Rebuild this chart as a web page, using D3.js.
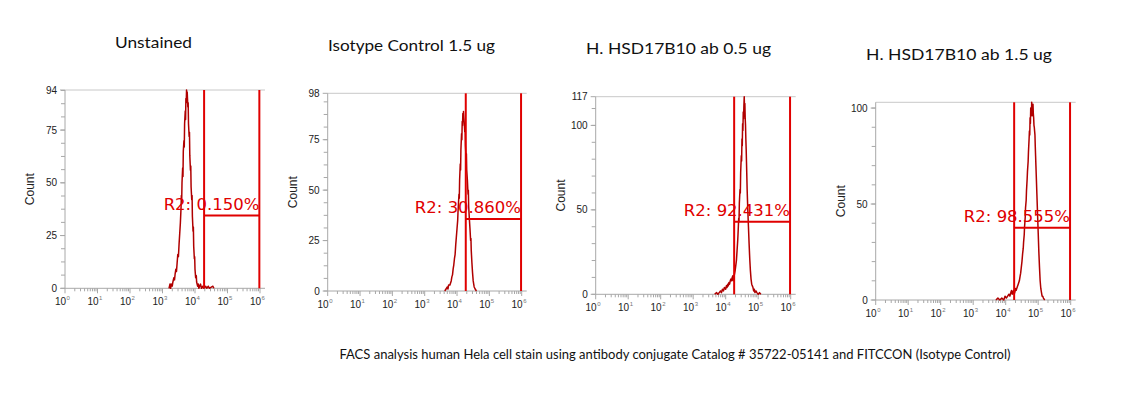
<!DOCTYPE html>
<html>
<head>
<meta charset="utf-8">
<script src="https://cdn.jsdelivr.net/npm/d3@7"></script>
<style>
  body { margin: 0; background: #fff; }
  svg { display: block; }
</style>
</head>
<body>
<div id="chart"></div>
<script>
// panel titles
const titles = ["Unstained", "Isotype Control 1.5 ug", "H. HSD17B10 ab 0.5 ug", "H. HSD17B10 ab 1.5 ug"];
const caption = "FACS analysis human Hela cell stain using antibody conjugate Catalog # 35722-05141 and FITCCON (Isotype Control)";

// y axis maximum and labelled ticks per panel
const yMax = [94, 98, 117, 103];
const yTicks = [[0, 25, 50, 75, 94], [0, 25, 50, 75, 98], [0, 50, 100, 117], [0, 50, 100]];

// gate R2 (log10 of intensity) and its marker level (count)
const gateLo = [4.28, 4.27, 4.26, 4.26];
const gateHi = [5.98, 5.98, 5.98, 5.98];
const gateLevel = [34.5, 35.7, 43, 37.7];
const gateText = ["R2: 0.150%", "R2: 30.860%", "R2: 92.431%", "R2: 98.555%"];

// histograms: [log10 intensity, count]
const unstainedHist = [
  [3.20, 0], [3.23, 2], [3.25, 0], [3.27, 2], [3.30, 1], [3.32, 3], [3.35, 5], [3.37, 4], [3.39, 7],
  [3.41, 9], [3.43, 8], [3.45, 12], [3.47, 16], [3.49, 15], [3.51, 21], [3.53, 26], [3.55, 31],
  [3.57, 38], [3.58, 44], [3.59, 41], [3.60, 50], [3.62, 57], [3.63, 53], [3.64, 65], [3.66, 70],
  [3.67, 67], [3.68, 78], [3.70, 84], [3.71, 80], [3.72, 90], [3.73, 88], [3.74, 94], [3.75, 91],
  [3.76, 93], [3.78, 86], [3.79, 88], [3.80, 78], [3.82, 72], [3.83, 74], [3.84, 63], [3.86, 56],
  [3.87, 58], [3.88, 48], [3.90, 42], [3.91, 44], [3.92, 34], [3.94, 27], [3.95, 29], [3.96, 20],
  [3.98, 14], [3.99, 15], [4.00, 9], [4.02, 5], [4.04, 6], [4.05, 3], [4.08, 1], [4.10, 2],
  [4.12, 0], [4.14, 1], [4.17, 2], [4.20, 0], [4.24, 1], [4.27, 0], [4.33, 1], [4.36, 0],
  [4.41, 1], [4.44, 0], [4.55, 1], [4.58, 0]
];
const isotypeHist = [
  [3.62, 0], [3.66, 1], [3.70, 2], [3.72, 1], [3.74, 3], [3.78, 3], [3.80, 4], [3.82, 5], [3.84, 7],
  [3.86, 8], [3.88, 11], [3.90, 13], [3.92, 16], [3.94, 18], [3.96, 23], [3.97, 25], [3.99, 29],
  [4.00, 31], [4.02, 35], [4.03, 39], [4.04, 42], [4.06, 48], [4.07, 46], [4.08, 55], [4.10, 63],
  [4.11, 60], [4.12, 70], [4.14, 78], [4.15, 75], [4.16, 84], [4.17, 82], [4.18, 88], [4.19, 85],
  [4.20, 89], [4.21, 86], [4.22, 84], [4.24, 79], [4.25, 81], [4.26, 72], [4.28, 66], [4.29, 68],
  [4.30, 60], [4.32, 55], [4.34, 48], [4.35, 50], [4.36, 42], [4.38, 36], [4.40, 31], [4.42, 25],
  [4.43, 26], [4.44, 20], [4.46, 14], [4.48, 9], [4.50, 5], [4.52, 3], [4.53, 2], [4.56, 1], [4.60, 0]
];
const hsd05Hist = [
  [3.66, 0], [3.72, 1], [3.76, 0], [3.80, 1], [3.84, 2], [3.87, 1], [3.90, 3], [3.93, 2], [3.96, 4],
  [4.00, 3], [4.02, 5], [4.04, 4], [4.06, 6], [4.08, 5], [4.10, 7], [4.12, 6], [4.14, 8], [4.16, 9],
  [4.18, 8], [4.20, 10], [4.22, 11], [4.23, 8], [4.25, 10], [4.27, 12], [4.29, 14], [4.31, 17],
  [4.33, 20], [4.35, 26], [4.37, 32], [4.38, 36], [4.40, 45], [4.41, 43], [4.42, 54], [4.44, 62],
  [4.45, 60], [4.46, 72], [4.48, 82], [4.49, 79], [4.50, 92], [4.51, 88], [4.52, 101], [4.53, 97],
  [4.54, 108], [4.55, 104], [4.56, 112], [4.57, 117], [4.58, 110], [4.59, 113], [4.60, 104],
  [4.61, 100], [4.62, 92], [4.63, 86], [4.64, 78], [4.65, 70], [4.66, 62], [4.67, 56], [4.68, 50],
  [4.70, 40], [4.72, 30], [4.74, 21], [4.76, 14], [4.78, 9], [4.80, 6], [4.82, 5], [4.84, 4],
  [4.86, 2], [4.88, 3], [4.90, 1], [4.93, 2], [4.96, 1], [5.00, 0], [5.04, 1], [5.08, 0]
];
const hsd15Hist = [
  [3.70, 0], [3.76, 1], [3.82, 0], [3.88, 1], [3.94, 0], [3.98, 2], [4.02, 1], [4.06, 2], [4.10, 3],
  [4.13, 2], [4.16, 4], [4.18, 5], [4.20, 3], [4.22, 4], [4.24, 5], [4.26, 3], [4.28, 4], [4.30, 6],
  [4.32, 5], [4.34, 6], [4.36, 7], [4.38, 8], [4.40, 9], [4.42, 10], [4.44, 12], [4.46, 14],
  [4.48, 17], [4.50, 20], [4.52, 24], [4.54, 27], [4.55, 30], [4.57, 34], [4.58, 38], [4.60, 43],
  [4.61, 48], [4.63, 52], [4.64, 57], [4.66, 63], [4.67, 67], [4.69, 72], [4.70, 77], [4.72, 84],
  [4.73, 88], [4.74, 86], [4.75, 95], [4.76, 92], [4.77, 100], [4.78, 97], [4.79, 96], [4.80, 103],
  [4.81, 98], [4.82, 99], [4.83, 96], [4.84, 102], [4.85, 97], [4.86, 95], [4.87, 91], [4.88, 90],
  [4.89, 88], [4.90, 86], [4.91, 80], [4.92, 75], [4.93, 70], [4.94, 65], [4.96, 55], [4.98, 45],
  [5.00, 35], [5.02, 25], [5.04, 17], [5.06, 10], [5.08, 6], [5.10, 4], [5.12, 2], [5.14, 2],
  [5.16, 1], [5.20, 0]
];
const histograms = [unstainedHist, isotypeHist, hsd05Hist, hsd15Hist];

// plot boxes: left edge (10^0), right edge (10^6), top, bottom, title position and width
const panels = [
  {left: 65, right: 260, top: 90, bottom: 288.3, tx: 153.5, ty: 48, tw: 77},
  {left: 327.7, right: 521.7, top: 93.3, bottom: 291, tx: 411.5, ty: 51, tw: 167},
  {left: 595.7, right: 790.7, top: 96.7, bottom: 294.3, tx: 678.5, ty: 54, tw: 185},
  {left: 875.7, right: 1070.7, top: 102.3, bottom: 300, tx: 959, ty: 60, tw: 186}
];

const W = 1139, H = 397;
const axisGrey = "#a8a8a8";
const histColor = "#b00000";
const gateColor = "#e00000";

const svg = d3.select("#chart").append("svg")
  .attr("width", W)
  .attr("height", H);

panels.forEach(function(p, i) {
  let g = svg.append("g");

  let x = d3.scaleLog().domain([1, 1e6]).range([p.left, p.right]);
  let y = d3.scaleLinear().domain([0, yMax[i]]).range([p.bottom, p.top]);
  let xl = v => x(Math.pow(10, v));

  // title
  svg.append("text")
    .attr("x", p.tx)
    .attr("y", p.ty)
    .attr("text-anchor", "middle")
    .attr("textLength", p.tw)
    .attr("lengthAdjust", "spacingAndGlyphs")
    .style("font-family", "Lato, 'Open Sans', sans-serif")
    .style("font-size", "16px")
    .attr("fill", "#111")
    .text(titles[i]);

  // frame
  g.append("line")
    .attr("x1", p.left).attr("x2", p.right + 5)
    .attr("y1", p.top).attr("y2", p.top)
    .attr("stroke", "#c8c8c8").attr("stroke-width", 1);
  g.append("line")
    .attr("x1", p.left).attr("x2", p.right + 5)
    .attr("y1", p.bottom).attr("y2", p.bottom)
    .attr("stroke", axisGrey).attr("stroke-width", 1);
  g.append("line")
    .attr("x1", p.left).attr("x2", p.left)
    .attr("y1", p.top).attr("y2", p.bottom)
    .attr("stroke", axisGrey).attr("stroke-width", 1);

  // y axis ticks
  let step = yTicks[i][1] / (i < 2 ? 4 : 5);
  let minor = d3.range(0, yMax[i], step);
  g.selectAll(".ymin")
    .data(minor)
    .enter().append("line")
    .attr("x1", p.left - 4).attr("x2", p.left)
    .attr("y1", d => y(d)).attr("y2", d => y(d))
    .attr("stroke", axisGrey);
  g.selectAll(".ylab")
    .data(yTicks[i])
    .enter().append("g")
    .each(function(d) {
      let t = d3.select(this);
      t.append("line")
        .attr("x1", p.left - 5).attr("x2", p.left)
        .attr("y1", y(d)).attr("y2", y(d))
        .attr("stroke", axisGrey);
      t.append("text")
        .attr("x", p.left - 8)
        .attr("y", y(d) + 3.5)
        .attr("text-anchor", "end")
        .style("font-family", "'Liberation Sans', Arial, sans-serif")
        .style("font-size", "10px")
        .attr("fill", "#222")
        .text(d);
    });

  // y label
  g.append("text")
    .attr("transform", "translate(" + (p.left - 31) + "," + ((p.top + p.bottom) / 2) + ") rotate(-90)")
    .attr("text-anchor", "middle")
    .style("font-family", "'Liberation Sans', Arial, sans-serif")
    .style("font-size", "12px")
    .attr("fill", "#222")
    .text("Count");

  // x axis ticks
  let xMinor = [];
  d3.range(0, 6).forEach(function(dec) {
    d3.range(2, 10).forEach(k => xMinor.push(k * Math.pow(10, dec)));
  });
  g.selectAll(".xmin")
    .data(xMinor)
    .enter().append("line")
    .attr("x1", d => x(d)).attr("x2", d => x(d))
    .attr("y1", p.bottom).attr("y2", p.bottom + 3)
    .attr("stroke", axisGrey);
  g.selectAll(".xmaj")
    .data(d3.range(0, 7))
    .enter().append("g")
    .each(function(d) {
      let t = d3.select(this);
      let px = xl(d);
      t.append("line")
        .attr("x1", px).attr("x2", px)
        .attr("y1", p.bottom).attr("y2", p.bottom + 5)
        .attr("stroke", axisGrey);
      t.append("text")
        .attr("x", px + 1)
        .attr("y", p.bottom + 17)
        .attr("text-anchor", "end")
        .style("font-family", "'Liberation Sans', Arial, sans-serif")
        .style("font-size", "10px")
        .attr("fill", "#222")
        .text("10");
      t.append("text")
        .attr("x", px + 1.5)
        .attr("y", p.bottom + 12)
        .style("font-family", "'Liberation Sans', Arial, sans-serif")
        .style("font-size", "6px")
        .attr("fill", "#777")
        .text(d);
    });

  // histogram outline
  let line = d3.line()
    .x(d => xl(d[0]))
    .y(d => y(d[1]));
  g.append("path")
    .datum(histograms[i])
    .attr("d", line)
    .attr("fill", "none")
    .attr("stroke", histColor)
    .attr("stroke-width", 1.5)
    .attr("stroke-linejoin", "round");

  // gate R2
  [gateLo[i], gateHi[i]].forEach(function(v) {
    g.append("line")
      .attr("x1", xl(v)).attr("x2", xl(v))
      .attr("y1", p.top).attr("y2", p.bottom)
      .attr("stroke", gateColor)
      .attr("stroke-width", 2);
  });
  g.append("line")
    .attr("x1", xl(gateLo[i])).attr("x2", xl(gateHi[i]))
    .attr("y1", y(gateLevel[i])).attr("y2", y(gateLevel[i]))
    .attr("stroke", gateColor)
    .attr("stroke-width", 2);
  g.append("text")
    .attr("x", xl(gateHi[i]))
    .attr("y", y(gateLevel[i]) - 6)
    .attr("text-anchor", "end")
    .style("font-family", "'DejaVu Sans', Verdana, sans-serif")
    .style("font-size", "16.5px")
    .attr("fill", gateColor)
    .text(gateText[i]);
});

// caption
svg.append("text")
  .attr("x", 675)
  .attr("y", 359)
  .attr("text-anchor", "middle")
  .style("font-family", "Lato, 'Open Sans', sans-serif")
  .style("font-size", "13px")
  .attr("fill", "#111")
  .text(caption);
</script>
</body>
</html>
